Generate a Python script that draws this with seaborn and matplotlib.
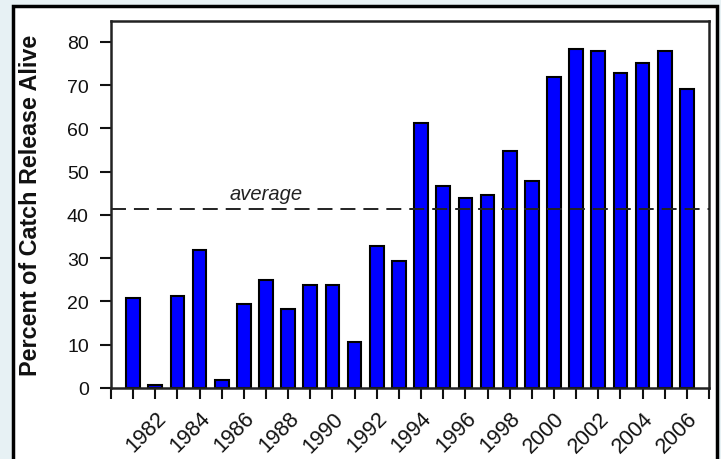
import matplotlib
matplotlib.use("Agg")
import matplotlib.pyplot as plt
from matplotlib.patches import Rectangle
import seaborn as sns
import pandas as pd

years = list(range(1981, 2007))
percent_alive = [20.8, 0.8, 21.3, 32.0, 1.9, 19.4, 24.9, 18.2, 23.9, 23.9, 10.6, 32.9, 29.4,
                 61.3, 46.7, 43.9, 44.6, 54.8, 47.9, 71.8, 78.3, 77.8, 72.7, 75.2, 77.8, 69.1]
average_value = 41.4
ylabel = "Percent of Catch Release Alive"
yticks = [0, 10, 20, 30, 40, 50, 60, 70, 80]
tick_years = list(range(1980, 2008))
label_years = list(range(1982, 2007, 2))

sns.set_style("white")
plt.rcParams['font.family'] = ['Liberation Sans', 'DejaVu Sans']

df = pd.DataFrame({"year": years, "pct": percent_alive})

fig = plt.figure(figsize=(7.21, 4.60), dpi=100)
fig.patch.set_facecolor("#e7f1f4")
# white panel with black border
fig.patches.append(Rectangle((13 / 721, -0.05), (717 - 13) / 721, 1 - 7 / 460 + 0.05,
                             transform=fig.transFigure, facecolor="white",
                             edgecolor="black", linewidth=2.5, zorder=-5))

ax = fig.add_axes([111 / 721, 1 - 389 / 460, (709 - 111) / 721, (389 - 22) / 460])
ax.set_zorder(1)
ax.set_facecolor("white")

sns.barplot(data=df, x="year", y="pct", native_scale=True, width=0.62,
            color="#0000ff", saturation=1, edgecolor="black", linewidth=1.5, ax=ax)

ax.axhline(average_value, color="#222222", linestyle=(0, (7.7, 4.1)), linewidth=1.4, zorder=3)
ax.text(1987.0, average_value + 1.3, "average", style="italic", fontsize=14.5,
        ha="center", va="bottom", color="#222222")

ax.set_xlim(1980, 2007)
ax.set_ylim(0, 84.8)
ax.set_xticks(tick_years)
ax.set_xticklabels([str(y) if y in label_years else "" for y in tick_years],
                   rotation=45, ha="right", rotation_mode="anchor", fontsize=15.5)
ax.set_yticks(yticks)
ax.set_yticklabels([str(v) for v in yticks], fontsize=14)
ax.tick_params(axis="both", direction="out", length=8, width=1.5, color="#111111",
               labelcolor="#111111", bottom=True, left=True)
ax.tick_params(axis="y", pad=8)
ax.tick_params(axis="x", pad=6)
ax.set_xlabel("")
ax.set_ylabel(ylabel, fontsize=16.8, fontweight="bold", color="#111111")
ax.yaxis.set_label_coords(-0.115, 0.5)
for s in ax.spines.values():
    s.set_visible(True)
    s.set_color("#222222")
    s.set_linewidth(1.8)

fig.savefig("out.png", dpi=100, facecolor=fig.get_facecolor())
